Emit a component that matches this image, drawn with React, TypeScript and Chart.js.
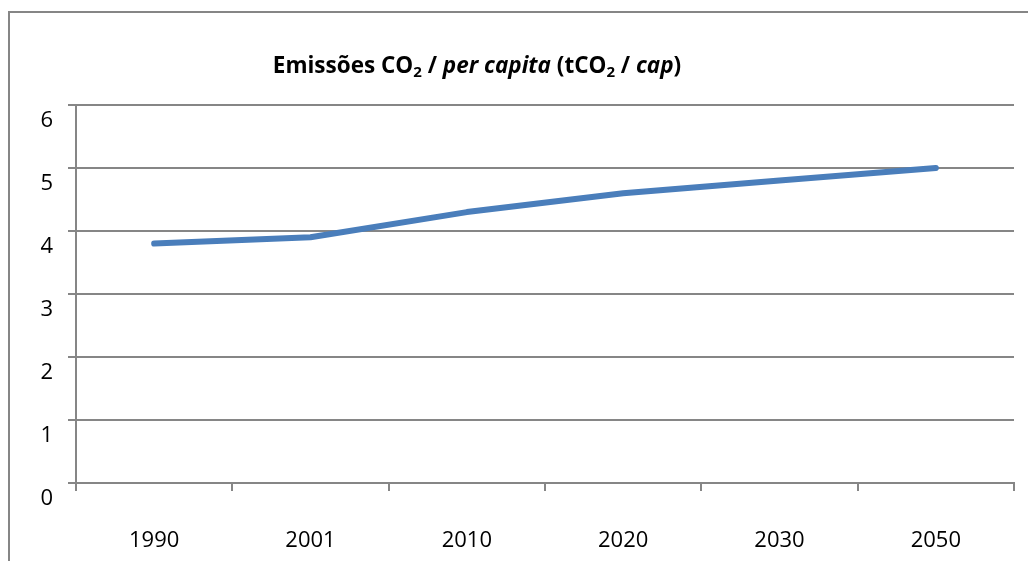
import React, { useEffect, useRef } from "react";
import { Chart, registerables } from "chart.js";

Chart.register(...registerables);

const years = ["1990", "2001", "2010", "2020", "2030", "2050"];
const emissions = [3.8, 3.9, 4.3, 4.6, 4.8, 5.0];
const yTicks = [0, 1, 2, 3, 4, 5, 6];

const titleSegments: { text: string; italic?: boolean; sub?: boolean }[] = [
  { text: "Emissões CO" },
  { text: "2", sub: true },
  { text: " / " },
  { text: "per capita", italic: true },
  { text: " (tCO" },
  { text: "2", sub: true },
  { text: " / " },
  { text: "cap", italic: true },
  { text: ")" },
];

const GRID = "#868686";
const FONT = "'Open Sans', 'DejaVu Sans', sans-serif";

const titlePlugin = {
  id: "richTitle",
  afterDraw(chart: any) {
    const ctx = chart.ctx;
    const size = 22.5;
    const subSize = 15;
    const fontFor = (s: any) =>
      `${s.italic ? "italic " : ""}bold ${s.sub ? subSize : size}px ${FONT}`;
    ctx.save();
    let total = 0;
    for (const s of titleSegments) {
      ctx.font = fontFor(s);
      total += ctx.measureText(s.text).width;
    }
    let x = 477 - total / 2;
    const base = 73;
    ctx.fillStyle = "#000";
    ctx.textBaseline = "alphabetic";
    ctx.textAlign = "left";
    for (const s of titleSegments) {
      ctx.font = fontFor(s);
      ctx.fillText(s.text, x, s.sub ? base + 4 : base);
      x += ctx.measureText(s.text).width;
    }
    ctx.restore();
  },
};

export default function App() {
  const ref = useRef<HTMLCanvasElement>(null);
  useEffect(() => {
    if (!ref.current) return;
    const chart = new Chart(ref.current, {
      type: "line",
      data: {
        labels: years,
        datasets: [
          {
            data: emissions,
            borderColor: "#4A7EBB",
            borderWidth: 6,
            pointRadius: 0,
            tension: 0,
            borderCapStyle: "round",
            borderJoinStyle: "round",
          },
        ],
      },
      options: {
        animation: false,
        responsive: false,
        devicePixelRatio: 1,
        layout: { padding: { top: 105, right: 14, left: 0, bottom: 0 } },
        plugins: { legend: { display: false }, title: { display: false }, tooltip: { enabled: false } },
        scales: {
          x: {
            type: "category",
            offset: true,
            grid: {
              offset: true,
              drawOnChartArea: false,
              drawTicks: true,
              tickLength: 8,
              color: GRID,
              lineWidth: 2,
            },
            border: { display: true, color: GRID, width: 2 },
            ticks: {
              color: "#000",
              font: { family: FONT, size: 22 },
              padding: 37,
              maxRotation: 0,
            },
            afterFit(scale: any) {
              scale.height = 78;
            },
          },
          y: {
            min: 0,
            max: 6,
            afterBuildTicks(scale: any) {
              scale.ticks = yTicks.map((v) => ({ value: v }));
            },
            grid: { color: GRID, lineWidth: 2, tickLength: 8, drawTicks: true },
            border: { display: true, color: GRID, width: 2 },
            ticks: {
              color: "#000",
              font: { family: FONT, size: 22 },
              padding: 15,
              labelOffset: 16,
            },
            afterFit(scale: any) {
              scale.width = 76;
            },
          },
        },
      },
      plugins: [titlePlugin],
    } as any);
    return () => chart.destroy();
  }, []);
  return (
    <div style={{ position: "fixed", left: 0, top: 0, width: 1028, height: 561, background: "#fff" }}>
      <div
        style={{
          position: "absolute",
          left: 8,
          top: 11,
          width: 1020,
          height: 550,
          borderTop: `2px solid ${GRID}`,
          borderLeft: `2px solid ${GRID}`,
          boxSizing: "border-box",
        }}
      />
      <canvas ref={ref} width={1028} height={561} style={{ position: "absolute", left: 0, top: 0 }} />
    </div>
  );
}
